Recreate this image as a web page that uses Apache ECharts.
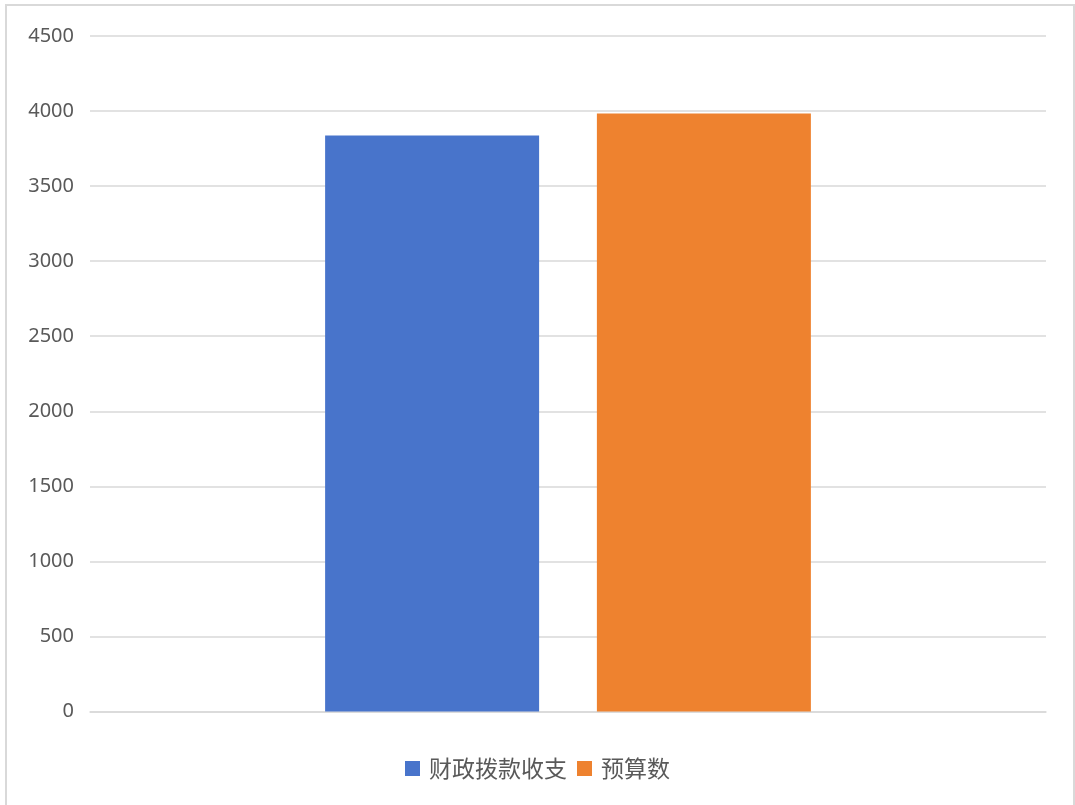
<!DOCTYPE html>
<html>
<head>
<meta charset="utf-8">
<script src="https://cdn.jsdelivr.net/npm/echarts@6/dist/echarts.min.js"></script>
<style>
  html, body { margin: 0; padding: 0; background: #fff; }
  #chart { width: 1075px; height: 805px; }
</style>
</head>
<body>
<div id="chart"></div>
<script>
// Chart data
const categories = [''];
const seriesNames = ['财政拨款收支', '预算数'];
const fundingValues = [3837];
const budgetValues = [3983];
const yTicks = { min: 0, max: 4500, interval: 500 };

const chart = echarts.init(document.getElementById('chart'));
chart.setOption({
  backgroundColor: '#fff',
  animation: false,
  graphic: [{
    type: 'rect',
    shape: { x: 6, y: 5, width: 1068, height: 820 },
    style: { fill: 'none', stroke: '#d9d9d9', lineWidth: 2 },
    silent: true
  }],
  grid: { left: 90, right: 29, top: 36, bottom: 93.5, containLabel: false },
  legend: {
    bottom: 20,
    left: 'center',
    itemWidth: 15,
    itemHeight: 15,
    itemGap: 10,
    icon: 'rect',
    textStyle: { fontFamily: 'Noto Sans CJK SC', fontSize: 23, color: '#595959', padding: [0, 0, 0, 4] },
    data: seriesNames
  },
  xAxis: {
    type: 'category',
    data: categories,
    axisLine: { show: true, lineStyle: { color: '#d9d9d9', width: 1.5 } },
    axisTick: { show: false },
    axisLabel: { show: false }
  },
  yAxis: {
    type: 'value',
    min: yTicks.min,
    max: yTicks.max,
    interval: yTicks.interval,
    axisLine: { show: false },
    axisTick: { show: false },
    axisLabel: {
      fontFamily: 'Noto Sans', fontSize: 20, color: '#595959', margin: 16,
      formatter: (v) => String(v)
    },
    splitLine: { lineStyle: { color: '#d9d9d9', width: 1.5 } }
  },
  series: [
    {
      name: seriesNames[0],
      type: 'bar',
      data: fundingValues,
      barWidth: 214,
      barGap: '27%',
      itemStyle: { color: '#4874cb' }
    },
    {
      name: seriesNames[1],
      type: 'bar',
      data: budgetValues,
      barWidth: 214,
      itemStyle: { color: '#ee822f' }
    }
  ]
});
</script>
</body>
</html>
